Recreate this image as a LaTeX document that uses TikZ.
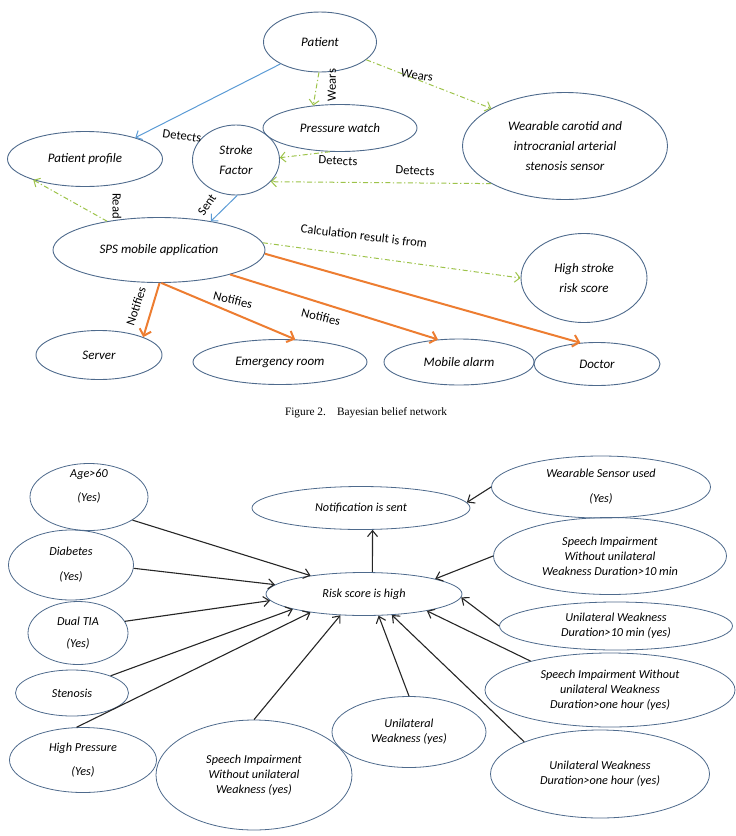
\documentclass[tikz,border=0pt]{standalone}
\usepackage{fontspec}
\setmainfont{Liberation Serif}
\newfontfamily\calib{Carlito}
\usepackage{xcolor}
\usetikzlibrary{arrows.meta,shapes.geometric,positioning}

\definecolor{ellblue}{HTML}{4E6A8C}
\definecolor{edgeblue}{HTML}{5B9BD5}
\definecolor{edgegreen}{HTML}{9DC34A}
\definecolor{edgeorange}{HTML}{ED7D31}

\tikzset{
	ell/.style={ellipse, draw=ellblue, line width=0.9pt, inner sep=0pt, align=center,
		font=\calib\itshape\fontsize{13}{20}\selectfont},
	ellb/.style={ellipse, draw=ellblue, line width=0.8pt, inner sep=0pt, align=center,
		font=\calib\itshape\fontsize{12.2}{15}\selectfont},
	lbl/.style={font=\calib\fontsize{12.6}{13}\selectfont, inner sep=0pt},
	bluearr/.style={draw=edgeblue, line width=1pt, -{Straight Barb[length=5pt,width=10pt]}},
	greenarr/.style={draw=edgegreen, line width=1pt,
		dash pattern=on 5pt off 2.5pt on 1.2pt off 2.5pt, -{Straight Barb[length=5pt,width=10pt]}},
	orangearr/.style={draw=edgeorange, line width=2pt, -{Straight Barb[length=6pt,width=12pt]}},
	blackarr/.style={draw=black!85, line width=1.1pt, -{Straight Barb[length=6pt,width=10pt]}}
}

\begin{document}
\begin{tikzpicture}[x=1pt, y=-1pt]
	\useasboundingbox (0,0) rectangle (736,836);

	\node[ell, minimum width=113pt, minimum height=60pt] (patient) at (320,42) {Patient};
	\node[ell, minimum width=154pt, minimum height=47pt] (watch) at (340,128) {Pressure watch};
	\node[ell, minimum width=205pt, minimum height=107pt] (carotid) at (565,146)
		{Wearable carotid and\\introcranial arterial\\stenosis sensor};
	\node[ell, minimum width=155pt, minimum height=55pt] (profile) at (85,159) {Patient profile};
	\node[ell, minimum width=87pt, minimum height=70pt] (stroke) at (236,160) {Stroke\\Factor};
	\node[ell, minimum width=212pt, minimum height=65pt] (sps) at (159,250) {SPS mobile application};
	\node[ell, minimum width=126pt, minimum height=89pt] (highrisk) at (584,278) {High stroke\\risk score};
	\node[ell, minimum width=126pt, minimum height=49pt] (server) at (99,355) {Server};
	\node[ell, minimum width=174pt, minimum height=45pt] (emergency) at (280,362) {Emergency room};
	\node[ell, minimum width=150pt, minimum height=46pt] (alarm) at (459,362) {Mobile alarm};
	\node[ell, minimum width=126pt, minimum height=43pt] (doctor) at (597,364) {Doctor};

	\draw[bluearr] (patient.-151) -- (profile.23);
	\draw[greenarr] (patient.-92) -- (watch.140);
	\draw[greenarr] (patient.-21) -- (carotid.153);
	\draw[greenarr] (watch.-113) -- (stroke.3);
	\draw[greenarr] (carotid.-153) -- (stroke.-32);
	\draw[bluearr] (stroke.-88) -- (sps.29);
	\draw[greenarr] (sps.151) -- (profile.-158);
	\draw[greenarr] (sps.4) -- (highrisk.180);
	\draw[orangearr] (sps.-89) -- (server.22);
	\draw[orangearr] (sps.-86) -- (emergency.56);
	\draw[orangearr] (sps.-19) -- (alarm.133);
	\draw[orangearr] (sps.-2) -- (doctor.128);

	\node[lbl, rotate=-8] (ldetA) at (182,136) {Detects};
	\node[lbl, rotate=90] (lwearA) at (332,85) {Wears};
	\node[lbl, rotate=-10] (lwearB) at (417,75) {Wears};
	\node[lbl, rotate=-3] (ldetB) at (338,161) {Detects};
	\node[lbl, rotate=-3] (ldetC) at (415,171) {Detects};
	\node[lbl, rotate=55] (lsent) at (207,205) {Sent};
	\node[lbl, rotate=-90] (lread) at (117,206) {Read};
	\node[lbl, rotate=-7] (lcalc) at (364,236) {Calculation result is from};
	\node[lbl, rotate=72] (lnotA) at (136,306) {Notifies};
	\node[lbl, rotate=-14] (lnotB) at (233,300) {Notifies};
	\node[lbl, rotate=-14] (lnotC) at (321,317) {Notifies};

	\node[font=\fontsize{11.3}{13}\selectfont] (caption) at (366,413) {Figure 2.\quad Bayesian belief network};

	\node[ellb, minimum width=118pt, minimum height=67pt,
		label={[ellb, draw=none, yshift=11pt, name=agetext]center:{Age>60\\[9pt](Yes)}}] (age) at (89,497) {};
	\node[ellb, minimum width=125pt, minimum height=70pt] (diab) at (71,565) {Diabetes\\[10pt](Yes)};
	\node[ellb, minimum width=100pt, minimum height=63pt] (dual) at (78,633) {Dual TIA\\[7pt](Yes)};
	\node[ellb, minimum width=113pt, minimum height=46pt] (sten) at (72,693) {Stenosis};
	\node[ellb, minimum width=147pt, minimum height=65pt] (hpress) at (83,760) {High Pressure\\[9pt](Yes)};
	\node[ellb, minimum width=196pt, minimum height=110pt] (speech) at (254,775)
		{Speech Impairment\\Without unilateral\\Weakness (yes)};
	\node[ellb, minimum width=154pt, minimum height=71pt] (uniw) at (409,732) {Unilateral\\Weakness (yes)};
	\node[ellb, minimum width=219pt, minimum height=88pt] (uwhour) at (600,774)
		{Unilateral Weakness\\Duration>one hour (yes)};
	\node[ellb, minimum width=250pt, minimum height=74pt] (sihour) at (610,690)
		{Speech Impairment Without\\unilateral Weakness\\Duration>one hour (yes)};
	\node[ellb, minimum width=233pt, minimum height=48pt] (uwten) at (616,626)
		{Unilateral Weakness\\Duration>10 min (yes)};
	\node[ellb, minimum width=233pt, minimum height=77pt] (siten) at (610,556)
		{Speech Impairment\\Without unilateral\\Weakness Duration>10 min};
	\node[ellb, minimum width=219pt, minimum height=62pt] (wsensor) at (601,487)
		{Wearable Sensor used\\[10pt](Yes)};
	\node[ellb, minimum width=218pt, minimum height=43pt] (notif) at (361,508) {Notification is sent};
	\node[ellb, minimum width=196pt, minimum height=43pt] (risk) at (364,594) {Risk score is high};

	\draw[blackarr] (wsensor.180) -- (notif.3);
	\draw[blackarr] (risk.69) -- (notif.-62);
	\foreach \src/\a/\b in {age/-28/161, diab/-3/174, dual/14/-176, sten/24/-168,
		hpress/101/-161, speech/90/-138, uniw/90/-56, uwhour/157/-37,
		sihour/160/-15, uwten/180/-2, siten/180/12}
		\draw[blackarr] (\src.\a) -- (risk.\b);
\end{tikzpicture}
\end{document}
